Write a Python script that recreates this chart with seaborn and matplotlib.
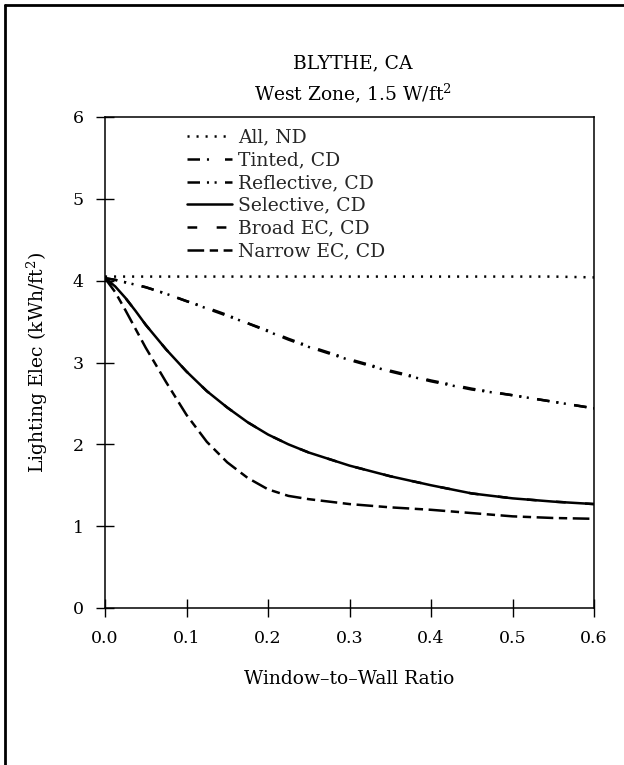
import numpy as np
import pandas as pd
import matplotlib
matplotlib.use("Agg")
import matplotlib.pyplot as plt
from matplotlib.lines import Line2D
import seaborn as sns

# ---- data ----
wwr = [0.0, 0.0125, 0.025, 0.0375, 0.05, 0.075, 0.1, 0.125, 0.15, 0.175, 0.2,
       0.225, 0.25, 0.3, 0.35, 0.4, 0.45, 0.5, 0.55, 0.6]
all_nd = [4.05, 4.05, 4.05, 4.05, 4.05, 4.05, 4.05, 4.05, 4.05, 4.05, 4.05,
          4.05, 4.05, 4.05, 4.05, 4.05, 4.05, 4.05, 4.05, 4.04]
tinted = [4.03, 4.01, 3.98, 3.95, 3.92, 3.84, 3.75, 3.67, 3.58, 3.48, 3.39,
          3.29, 3.20, 3.04, 2.90, 2.78, 2.68, 2.60, 2.52, 2.44]
reflective = [4.03, 4.01, 3.98, 3.95, 3.92, 3.84, 3.75, 3.66, 3.57, 3.48, 3.38,
              3.28, 3.19, 3.03, 2.89, 2.77, 2.67, 2.60, 2.52, 2.44]
selective = [4.03, 3.93, 3.79, 3.63, 3.46, 3.16, 2.89, 2.65, 2.45, 2.27, 2.12,
             2.00, 1.90, 1.74, 1.61, 1.50, 1.40, 1.34, 1.30, 1.27]
broad_ec = [4.03, 3.93, 3.79, 3.63, 3.46, 3.16, 2.89, 2.65, 2.45, 2.27, 2.12,
            2.00, 1.90, 1.74, 1.61, 1.50, 1.40, 1.34, 1.30, 1.27]
narrow_ec = [4.03, 3.86, 3.64, 3.41, 3.18, 2.76, 2.36, 2.03, 1.78, 1.59, 1.45,
             1.37, 1.33, 1.27, 1.23, 1.20, 1.16, 1.12, 1.10, 1.09]

series_names = ["All, ND", "Tinted, CD", "Reflective, CD", "Selective, CD",
                "Broad EC, CD", "Narrow EC, CD"]
series_values = [all_nd, tinted, reflective, selective, broad_ec, narrow_ec]

x_ticks = [0.0, 0.1, 0.2, 0.3, 0.4, 0.5, 0.6]
x_ticklabels = ["0.0", "0.1", "0.2", "0.3", "0.4", "0.5", "0.6"]
y_ticks = [0, 1, 2, 3, 4, 5, 6]

title1 = "BLYTHE, CA"
title2 = "West Zone, 1.5 W/ft$^2$"
xlabel = "Window\u2013to\u2013Wall Ratio"
ylabel = "Lighting Elec (kWh/ft$^2$)"

# ---- styling ----
sns.set_theme(style="white")
plt.rcParams["font.family"] = ["DejaVu Serif"]
plt.rcParams["mathtext.fontset"] = "dejavuserif"
plt.rcParams["lines.scale_dashes"] = False

styles = {
    "All, ND": (0, (1.5, 5.0)),
    "Tinted, CD": (0, (9, 5, 1.5, 11.5)),
    "Reflective, CD": (0, (9, 5, 1.5, 4, 1.5, 6)),
    "Selective, CD": "-",
    "Broad EC, CD": (0, (7, 14)),
    "Narrow EC, CD": (0, (12, 4, 6, 4)),
}

df = pd.DataFrame({"wwr": np.tile(wwr, len(series_names)),
                   "value": np.concatenate(series_values),
                   "series": np.repeat(series_names, len(wwr))})

fig = plt.figure(figsize=(6.24, 7.65), dpi=100)
ax = fig.add_axes([105/624, 1-608/765, (594-105)/624, (608-117)/765])

for name in series_names:
    sub = df[df["series"] == name]
    sns.lineplot(data=sub, x="wwr", y="value", ax=ax, color="black",
                 linewidth=1.8, linestyle=styles[name], label=name,
                 estimator=None, sort=False)

ax.set_xlim(0, 0.6)
ax.set_ylim(0, 6)
ax.set_xticks(x_ticks)
ax.set_xticklabels(x_ticklabels)
ax.set_yticks(y_ticks)
ax.tick_params(direction="inout", length=13, width=1.0, color="black",
               labelsize=12.5, labelcolor="black", pad=9,
               bottom=True, left=True)
for s in ax.spines.values():
    s.set_color("black")
    s.set_linewidth(1.1)
ax.set_xlabel(xlabel, fontsize=13.5, labelpad=17, color="black")
ax.set_ylabel(ylabel, fontsize=13.5, labelpad=16, color="black")
ax.grid(False)

leg = ax.legend(loc="upper left", bbox_to_anchor=(0.167, 0.976),
                frameon=False, fontsize=13.5, handlelength=2.4,
                handletextpad=0.35, labelspacing=0.25, borderpad=0,
                borderaxespad=0)

fig.text(353/624, 1-63/765, title1, ha="center", va="center",
         fontsize=13.5, color="black")
fig.text(353/624, 1-93/765, title2, ha="center", va="center",
         fontsize=13.5, color="black")

# page frame (top and left edges)
fig.add_artist(Line2D([5/624, 5/624], [0, 1-5/765], transform=fig.transFigure,
                      color="black", linewidth=2))
fig.add_artist(Line2D([5/624, 1], [1-5/765, 1-5/765], transform=fig.transFigure,
                      color="black", linewidth=2))

fig.savefig("out.png", dpi=100)
